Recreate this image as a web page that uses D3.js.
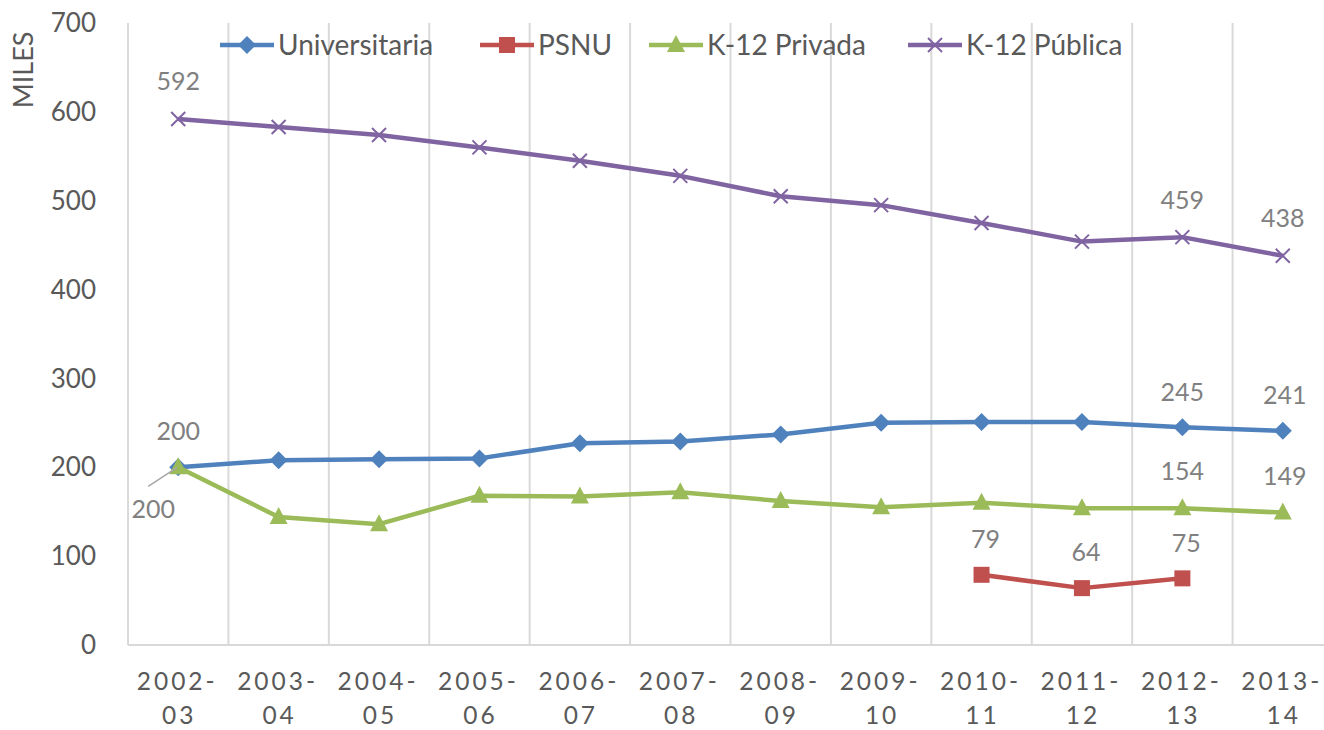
<!DOCTYPE html>
<html>
<head>
<meta charset="utf-8">
<script src="https://cdn.jsdelivr.net/npm/d3@7"></script>
<style>
  body { margin: 0; background: #fff; }
  svg { display: block; font-family: Lato, "Open Sans", sans-serif; }
</style>
</head>
<body>
<div id="chart"></div>
<script>
// school years, split in two lines on the axis
var years = ["2002-03", "2003-04", "2004-05", "2005-06", "2006-07", "2007-08",
             "2008-09", "2009-10", "2010-11", "2011-12", "2012-13", "2013-14"];

var universitaria = [200, 208, 209, 210, 227, 229, 237, 250, 251, 251, 245, 241];
var psnu          = [null, null, null, null, null, null, null, null, 79, 64, 75, null];
var privada       = [200, 144, 136, 168, 167, 172, 162, 155, 160, 154, 154, 149];
var publica       = [592, 583, 574, 560, 545, 528, 505, 495, 475, 454, 459, 438];

var yTicks = [0, 100, 200, 300, 400, 500, 600, 700];

var series = [
    {name: "Universitaria", values: universitaria, color: "#4f81bd", marker: "diamond"},
    {name: "PSNU",          values: psnu,          color: "#c0504d", marker: "square"},
    {name: "K-12 Privada",  values: privada,       color: "#9bbb59", marker: "triangle"},
    {name: "K-12 Pública",  values: publica,       color: "#8064a2", marker: "cross"}
];

// data labels: [series index, year index, dx, dy]
var labels = [
    [3, 0, 0, -38], [3, 10, 0, -37], [3, 11, 0, -38],
    [0, 0, 0, -36], [0, 10, 0, -35], [0, 11, 2, -36],
    [1, 8, 4, -36], [1, 9, 4, -36], [1, 10, 4, -35],
    [2, 0, -25, 42], [2, 10, 0, -37], [2, 11, 2, -36]
];

var width = 1324, height = 730;
var margin = {top: 23, right: -9, bottom: 85, left: 128};

var svg = d3.select("#chart").append("svg")
    .attr("width", width)
    .attr("height", height);

var x = d3.scaleBand()
    .domain(years)
    .range([margin.left, width - margin.right]);

var y = d3.scaleLinear()
    .domain([0, 700])
    .range([height - margin.bottom, margin.top]);

var cx = function (i) { return x(years[i]) + x.bandwidth() / 2; };

// vertical gridlines on category boundaries
var bounds = years.map(function (d) { return x(d); }).concat([x.range()[1]]);
svg.append("g").selectAll("line")
    .data(bounds)
    .join("line")
    .attr("x1", function (d) { return d; })
    .attr("x2", function (d) { return d; })
    .attr("y1", y(700))
    .attr("y2", y(0))
    .attr("stroke", "#d9d9d9")
    .attr("stroke-width", 2);

svg.append("line")
    .attr("x1", margin.left).attr("x2", x.range()[1])
    .attr("y1", y(0)).attr("y2", y(0))
    .attr("stroke", "#d9d9d9").attr("stroke-width", 2);

// y tick labels
svg.append("g").selectAll("text")
    .data(yTicks)
    .join("text")
    .attr("x", 96)
    .attr("y", function (d) { return y(d); })
    .attr("dy", "0.35em")
    .attr("text-anchor", "end")
    .attr("fill", "#595959")
    .style("font-size", "26px")
    .text(function (d) { return d; });

svg.append("text")
    .attr("transform", "translate(33,70) rotate(-90)")
    .attr("text-anchor", "middle")
    .attr("fill", "#595959")
    .style("font-size", "27px")
    .text("MILES");

// x labels, two lines
var xl = svg.append("g").selectAll("text")
    .data(years)
    .join("text")
    .attr("text-anchor", "middle")
    .attr("fill", "#595959")
    .style("font-size", "24.5px")
    .style("letter-spacing", "3px");
xl.append("tspan")
    .attr("x", function (d) { return x(d) + x.bandwidth() / 2 - 1; })
    .attr("y", 690)
    .text(function (d) { return d.split("-")[0] + "-"; });
xl.append("tspan")
    .attr("x", function (d) { return x(d) + x.bandwidth() / 2 + 1; })
    .attr("y", 724)
    .text(function (d) { return d.split("-")[1]; });

function marker(g, type, color) {
    if (type === "diamond") {
        g.append("path").attr("d", "M0,-9L9,0L0,9L-9,0Z").attr("fill", color);
    } else if (type === "square") {
        g.append("rect").attr("x", -8).attr("y", -8).attr("width", 16).attr("height", 16).attr("fill", color);
    } else if (type === "triangle") {
        g.append("path").attr("d", "M0,-10L9,7L-9,7Z").attr("fill", color);
    } else {
        g.append("path").attr("d", "M-7,-7L7,7M-7,7L7,-7")
            .attr("stroke", color).attr("stroke-width", 2).attr("fill", "none");
    }
}

var line = d3.line()
    .defined(function (d) { return d != null; })
    .x(function (d, i) { return cx(i); })
    .y(function (d) { return y(d); });

series.forEach(function (s) {
    svg.append("path")
        .datum(s.values)
        .attr("d", line)
        .attr("fill", "none")
        .attr("stroke", s.color)
        .attr("stroke-width", 4.5)
        .attr("stroke-linejoin", "round");

    s.values.forEach(function (v, i) {
        if (v == null) return;
        var g = svg.append("g").attr("transform", "translate(" + cx(i) + "," + y(v) + ")");
        marker(g, s.marker, s.color);
    });
});

// leader line for the lower "200" label
svg.append("line")
    .attr("x1", cx(0) - 30).attr("y1", y(200) + 19)
    .attr("x2", cx(0) - 1).attr("y2", y(200))
    .attr("stroke", "#a6a6a6").attr("stroke-width", 1.5);

// data labels
svg.append("g").selectAll("text")
    .data(labels)
    .join("text")
    .attr("x", function (d) { return cx(d[1]) + d[2]; })
    .attr("y", function (d) { return y(series[d[0]].values[d[1]]) + d[3]; })
    .attr("dy", "0.35em")
    .attr("text-anchor", "middle")
    .attr("fill", "#808080")
    .style("font-size", "25px")
    .text(function (d) { return series[d[0]].values[d[1]]; });

// legend
var legendX = [220, 480, 649, 908];
var leg = svg.append("g").selectAll("g")
    .data(series)
    .join("g")
    .attr("transform", function (d, i) { return "translate(" + legendX[i] + ",45)"; });
leg.append("line")
    .attr("x1", 0).attr("x2", 54)
    .attr("stroke", function (d) { return d.color; })
    .attr("stroke-width", 4.5);
leg.each(function (d) {
    var g = d3.select(this).append("g").attr("transform", "translate(27,0)");
    marker(g, d.marker, d.color);
});
leg.append("text")
    .attr("x", 58)
    .attr("dy", "0.35em")
    .attr("fill", "#595959")
    .style("font-size", "28px")
    .text(function (d) { return d.name; });
</script>
</body>
</html>
